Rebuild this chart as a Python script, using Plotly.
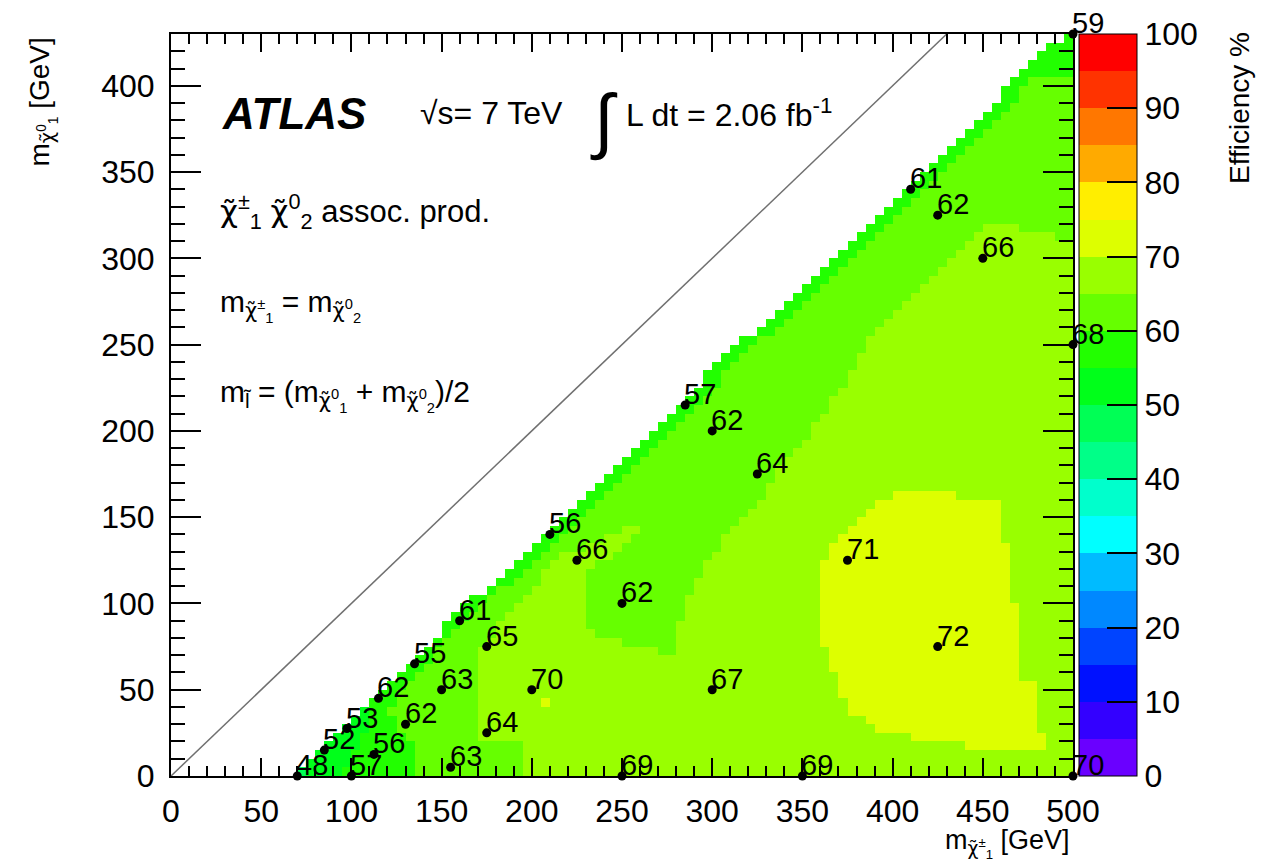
import numpy as np
import plotly.graph_objects as go

# ---------------- data ----------------
# signal grid points: chargino mass, neutralino mass, efficiency [%]
pt_x = [70, 100, 85, 97.5, 112.5, 115, 130, 135, 150, 155, 160, 175, 175, 200, 210, 225,
        250, 250, 285, 300, 300, 325, 350, 375, 410, 425, 425, 450, 500, 500, 500]
pt_y = [0, 0, 15, 27.5, 12.5, 45, 30, 65, 50, 5, 90, 75, 25, 50, 140, 125,
        100, 0, 215, 200, 50, 175, 0, 125, 340, 325, 75, 300, 430, 250, 0]
pt_eff = [48, 57, 52, 53, 56, 62, 62, 55, 63, 63, 61, 65, 64, 70, 56, 66,
          62, 69, 57, 62, 67, 64, 69, 71, 61, 62, 72, 66, 59, 68, 70]

# left (white) edge of the efficiency map
edge_x = [70, 89, 109, 130, 150, 150, 180, 200, 230, 269, 286, 304, 345, 386, 424, 460, 489, 497, 500, 500]
edge_y = [0, 23, 42, 62, 81, 87, 114, 133, 162, 201, 220, 240, 278, 317, 356, 395, 424, 430, 430, 0]

band_60_x = [0, 500, 500, 490, 490, 470, 470, 455, 445, 430, 410, 389, 379, 369, 354, 339, 329, 319,
             304, 290, 284, 279, 279, 269, 269, 249, 249, 234, 234, 229, 229, 240, 255, 260, 250,
             243, 235, 214, 205, 200, 185, 180, 170, 170, 195, 195, 0]
band_60_y = [430, 430, 310, 310, 315, 315, 320, 320, 310, 298, 278, 259, 240, 220, 199, 180, 164, 153,
             133, 114, 95, 85, 71, 71, 76, 76, 81, 81, 87, 87, 116, 125, 135, 143, 143,
             139, 135, 127, 118, 106, 95, 83, 75, 20, 20, 0, 0]
band_55_x = [0, 500, 500, 475, 470, 434, 396, 355, 314, 296, 279, 240, 210, 190, 160, 155, 145,
             135, 125, 122, 125, 135, 135, 0]
band_55_y = [430, 430, 405, 405, 395, 356, 317, 278, 240, 220, 201, 162, 133, 114, 88, 80, 70,
             55, 50, 35, 25, 18, 0, 0]
band_50_x = [0, 0, 108, 110, 105, 100, 92]
band_50_y = [0, 50, 42, 30, 20, 10, 0]
band_45_x = [64, 64, 76, 76]
band_45_y = [0, 6, 6, 0]
band_70_x = [400, 435, 460, 462, 467, 469, 480, 482, 485, 474, 435, 410, 389, 379, 372, 367, 362,
             358, 358, 365, 375, 388]
band_70_y = [163, 163, 158, 140, 112, 57, 55, 28, 13, 13, 18, 23, 28, 35, 45, 60, 75,
             85, 120, 130, 145, 157]
patch_70_x = [205, 210, 210, 205]
patch_70_y = [40, 40, 45, 45]

band_base = 67.5
band_levels = [62.5, 57.5, 52.5, 47.5, 72.5, 72.5]

diag_x = [0, 430]
diag_y = [0, 430]

cbar_ticks = [0, 10, 20, 30, 40, 50, 60, 70, 80, 90, 100]
band_colors = ["#6A00FF", "#3300FF", "#0011FF", "#0044FF", "#0088FF", "#00BBFF", "#00FFFF",
               "#00FFCC", "#00FF88", "#00FF55", "#00FF1A", "#22FF00", "#66FF00", "#99FF00",
               "#DDFF00", "#FFEE00", "#FFAA00", "#FF7700", "#FF3300", "#FF0000"]

# ---------------- build the map ----------------
cell = 5.0
xc = np.arange(cell / 2, 500, cell)
yc = np.arange(cell / 2, 430, cell)
XX, YY = np.meshgrid(xc, yc)


def inside(px, py, xs, ys):
    xs = np.asarray(xs, float)
    ys = np.asarray(ys, float)
    res = np.zeros(px.shape, bool)
    n = len(xs)
    j = n - 1
    for i in range(n):
        xi, yi, xj, yj = xs[i], ys[i], xs[j], ys[j]
        cond = ((yi > py) != (yj > py))
        with np.errstate(divide="ignore", invalid="ignore"):
            xint = (xj - xi) * (py - yi) / (yj - yi) + xi
        res ^= cond & (px < xint)
        j = i
    return res


Z = np.full(XX.shape, band_base)
regions = [(band_60_x, band_60_y), (band_55_x, band_55_y), (band_50_x, band_50_y),
           (band_45_x, band_45_y), (band_70_x, band_70_y), (patch_70_x, patch_70_y)]
for (rx, ry), lev in zip(regions, band_levels):
    Z[inside(XX, YY, rx, ry)] = lev
filled = inside(XX, YY, edge_x, edge_y)
Z[~filled] = np.nan

cs = []
nb = len(band_colors)
for i, c in enumerate(band_colors):
    cs.append([i / nb, c])
    cs.append([(i + 1) / nb, c])

FONT = "Liberation Sans, Arial, Helvetica, sans-serif"
CHI = '<span style="font-family:DejaVu Sans">χ̃</span>'

fig = go.Figure()
fig.add_trace(go.Heatmap(
    x=xc, y=yc, z=Z, zmin=0, zmax=100, colorscale=cs, hoverongaps=False,
    colorbar=dict(
        x=1.0067, xanchor="left", xpad=0, ypad=0, y=0.5, yanchor="middle",
        len=1, lenmode="fraction", thickness=58, thicknessmode="pixels",
        outlinewidth=1, outlinecolor="black",
        tickvals=cbar_ticks, ticks="inside", ticklen=30, tickwidth=1.5, tickcolor="black",
        tickfont=dict(family=FONT, size=32, color="black"),
    ),
))

fig.add_trace(go.Scatter(x=diag_x, y=diag_y, mode="lines",
                         line=dict(color="#707070", width=1.5), hoverinfo="skip",
                         showlegend=False))

fig.add_trace(go.Scatter(
    x=pt_x, y=pt_y, mode="markers",
    marker=dict(color="black", size=9), cliponaxis=False, showlegend=False,
))

annots = []
for xv, yv, ev in zip(pt_x, pt_y, pt_eff):
    annots.append(dict(x=xv, y=yv, xref="x", yref="y", text=str(ev), showarrow=False,
                       xanchor="left", yanchor="middle", xshift=-3, yshift=11,
                       font=dict(family=FONT, size=29, color="black")))


def px2paper(px, py):
    return (px - 171) / 902.0, (776 - py) / 742.0


def add_text(px, py, text, size, xanchor="left", yanchor="middle", angle=0):
    x, y = px2paper(px, py)
    annots.append(dict(x=x, y=y, xref="paper", yref="paper", text=text, showarrow=False,
                       xanchor=xanchor, yanchor=yanchor, textangle=angle,
                       font=dict(family=FONT, size=size, color="black")))


add_text(220, 113, "<b><i>ATLAS</i></b>", 44)
add_text(418, 113, "√s= 7 TeV", 32)
add_text(588, 120, "∫", 72)
add_text(624, 113, "L dt = 2.06 fb<sup>-1</sup>", 32)
add_text(218, 212, CHI + "<sup>±</sup><sub>1</sub> " + CHI + "<sup>0</sup><sub>2</sub> assoc. prod.", 31)
add_text(218, 305, "m<sub>" + CHI + "<sup>±</sup><sub>1</sub></sub> = m<sub>" + CHI + "<sup>0</sup><sub>2</sub></sub>", 30)
add_text(218, 395, "m<sub>l̃</sub> = (m<sub>" + CHI + "<sup>0</sup><sub>1</sub></sub> + m<sub>" + CHI
         + "<sup>0</sup><sub>2</sub></sub>)/2", 30)
add_text(1072, 843, "m<sub>" + CHI + "<sup>±</sup><sub>1</sub></sub> [GeV]", 27, xanchor="right")
add_text(42, 36, "m<sub>" + CHI + "<sup>0</sup><sub>1</sub></sub> [GeV]", 28, xanchor="center",
         yanchor="top", angle=-90)
add_text(1240, 30, "Efficiency %", 28, xanchor="center", yanchor="top", angle=-90)

axis_common = dict(showline=True, linecolor="black", linewidth=2, mirror="ticks",
                   showgrid=False, zeroline=False, ticks="inside", tickcolor="black",
                   tickwidth=1.5, tickfont=dict(family=FONT, size=32, color="black"))
fig.update_layout(
    width=1278, height=866,
    margin=dict(l=171, r=205, t=34, b=90),
    paper_bgcolor="white", plot_bgcolor="white",
    xaxis=dict(range=[0, 500], dtick=50, ticklen=18, ticklabelstandoff=6,
               minor=dict(dtick=10, ticklen=10, ticks="inside", tickcolor="black", tickwidth=1.5),
               **axis_common),
    yaxis=dict(range=[0, 430], dtick=50, ticklen=30, ticklabelstandoff=8,
               minor=dict(dtick=10, ticklen=14, ticks="inside", tickcolor="black", tickwidth=1.5),
               **axis_common),
    annotations=annots,
    showlegend=False,
)

fig.write_html("out.html")
